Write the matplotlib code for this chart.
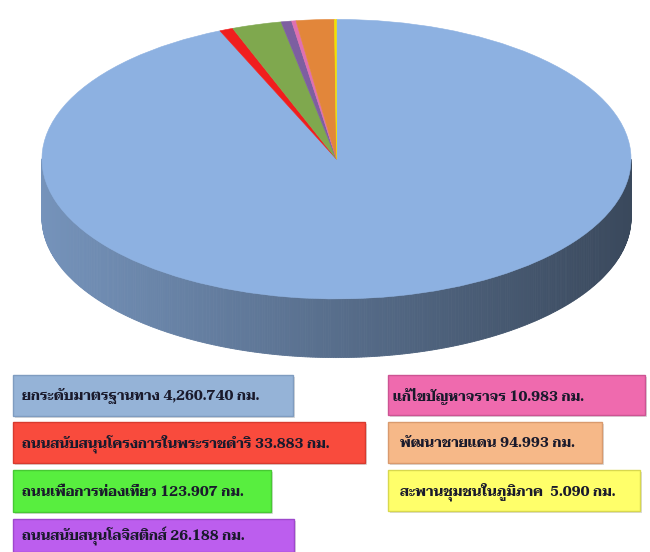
import numpy as np
import matplotlib
matplotlib.use("Agg")
import matplotlib.pyplot as plt
from matplotlib.patches import Rectangle, Polygon
from matplotlib.colors import to_rgb

# Road work lengths by programme (km)
categories = [
    "ยกระดับมาตรฐานทาง",
    "ถนนสนับสนุนโครงการในพระราชดำริ",
    "ถนนเพื่อการท่องเที่ยว",
    "ถนนสนับสนุนโลจิสติกส์",
    "แก้ไขปัญหาจราจร",
    "พัฒนาชายแดน",
    "สะพานชุมชนในภูมิภาค",
]
lengths_km = [4260.740, 33.883, 123.907, 26.188, 10.983, 94.993, 5.090]
unit = "กม."

slice_colors = ["#8DB1E1", "#F01E1E", "#7FA84E", "#7D5FA0", "#E070B0", "#E2863A", "#F2E000"]
box_colors = ["#95B3D7", "#F94B3D", "#58EE3F", "#BC5EEE", "#EF6AAE", "#F6B888", "#FFFF6A"]
box_edges = ["#7F9CC0", "#D83A2E", "#47C933", "#9E48CC", "#CC5493", "#D99A6E", "#D8D84E"]

# legend box rectangles in pixels: x0, y0, x1, y1
box_rects = [
    (13, 375, 293, 416),
    (13, 422, 365, 463),
    (13, 470, 271, 512),
    (13, 519, 294, 552),
    (388, 375, 645, 415),
    (388, 422, 602, 463),
    (388, 470, 640, 511),
]
text_pad = [9, 9, 9, 9, 5, 12, 12]

W, H = 650, 552
fig = plt.figure(figsize=(W / 100, H / 100), dpi=100)
fig.patch.set_facecolor("white")

# pixel-space canvas for the legend boxes
bg = fig.add_axes([0, 0, 1, 1])
bg.set_xlim(0, W)
bg.set_ylim(H, 0)
bg.axis("off")

# tilted pie: unit circle squashed by the axes' aspect
depth = 0.42
px_x0, px_x1 = 39, 634
px_top, px_bot = 18, 359
ax = fig.add_axes([px_x0 / W, (H - px_bot) / H, (px_x1 - px_x0) / W, (px_bot - px_top) / H])
wedges, _ = ax.pie(
    lengths_km,
    colors=slice_colors,
    startangle=90,
    counterclock=False,
    wedgeprops=dict(linewidth=0.4),
)
for w, c in zip(wedges, slice_colors):
    w.set_edgecolor(c)
ax.set_aspect("auto")
ax.set_xlim(-1.01, 1.01)
ax.set_ylim(-1 - depth - 0.01, 1.01)
ax.axis("off")

# side wall of the front half, shaded darker toward the right
for w, c in zip(wedges, slice_colors):
    base = np.array(to_rgb(c))
    t = np.radians(np.linspace(w.theta1, w.theta2, max(2, int(abs(w.theta2 - w.theta1) * 2) + 1)))
    for a0, a1 in zip(t[:-1], t[1:]):
        am = 0.5 * (a0 + a1)
        if np.sin(am) >= 0:
            continue
        f = 0.62 - 0.21 * np.cos(am)
        col = np.clip(base * f, 0, 1)
        p0 = (np.cos(a0), np.sin(a0))
        p1 = (np.cos(a1), np.sin(a1))
        quad = Polygon([p0, p1, (p1[0], p1[1] - depth), (p0[0], p0[1] - depth)],
                       closed=True, facecolor=col, edgecolor=col, linewidth=0.6, zorder=0.5)
        ax.add_patch(quad)

# legend boxes with labels
for cat, val, rect, fc, ec, pad in zip(categories, lengths_km, box_rects, box_colors, box_edges, text_pad):
    x0, y0, x1, y1 = rect
    bg.add_patch(Rectangle((x0 + 2, y0 + 2), x1 - x0, y1 - y0, facecolor="#9a9a9a",
                           alpha=0.35, edgecolor="none", zorder=1))
    bg.add_patch(Rectangle((x0, y0), x1 - x0, y1 - y0, facecolor=fc, edgecolor=ec,
                           linewidth=1.0, zorder=2))
    gap = "  " if val < 10 else " "
    bg.text(x0 + pad, (y0 + y1) / 2 + 1, f"{cat}{gap}{val:,.3f} {unit}",
            family=["Taviraj", "DejaVu Serif"], fontweight="bold", fontsize=10,
            color="#1a1a2c", ha="left", va="center", zorder=3)

fig.savefig("out.png", dpi=100, facecolor="white")
